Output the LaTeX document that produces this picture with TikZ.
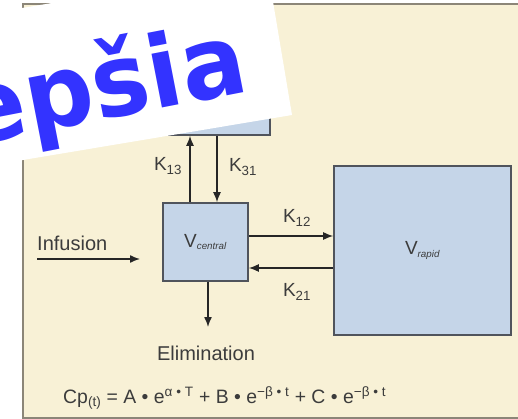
\documentclass[tikz,border=0pt]{standalone}
\usepackage{fontspec}
\setmainfont{Liberation Sans}
\newfontfamily\stampfont{DejaVu Sans}
\usetikzlibrary{arrows.meta, positioning}

\definecolor{panelbg}{RGB}{248,241,214}
\definecolor{panelline}{RGB}{140,134,120}
\definecolor{boxfill}{RGB}{197,213,232}
\definecolor{boxline}{RGB}{80,84,92}
\definecolor{inktext}{RGB}{60,60,60}
\definecolor{stampblue}{RGB}{51,51,255}

\begin{document}
\begin{tikzpicture}[x=1pt, y=-1pt, >={Latex[length=10pt,width=8pt]},
      comp/.style={draw=boxline, line width=1.6pt, fill=boxfill, inner sep=0pt,
                   font=\fontsize{19}{19}\selectfont, text=inktext},
      flow/.style={->, line width=1.4pt, draw=black!85},
      rate/.style={font=\fontsize{19}{19}\selectfont, text=inktext},
      lbl/.style={font=\fontsize{20}{20}\selectfont, text=inktext},
      stamp/.style={font=\stampfont\bfseries\fontsize{100}{100}\selectfont,
                    text=stampblue, inner sep=0pt}]

    \useasboundingbox (0,0) rectangle (518,419);

    % === panel ===
    \fill[panelbg] (23,4) rectangle (530,418);
    \draw[panelline, line width=1.5pt] (530,4) -- (23,4) -- (23,418) -- (530,418);

    % === compartments ===
    \node[comp, minimum width=120pt, minimum height=95pt] (deep) at (210,87.5) {};
    \node[comp, minimum width=85pt, minimum height=78pt] (central) at (205.5,242)
        {V{\fontsize{14}{14}\selectfont\textsubscript{\itshape central}}};
    \node[comp, minimum width=177pt, minimum height=169pt] (rapid) at (422.5,250.5)
        {V{\fontsize{14}{14}\selectfont\textsubscript{\itshape rapid}}};

    % === transfers ===
    \draw[flow] ([xshift=-15.5pt]central.north) -- ([xshift=-15.5pt]central.north |- deep.south);
    \draw[flow] ([xshift=11.5pt]central.north |- deep.south) -- ([xshift=11.5pt]central.north);
    \draw[flow] ([yshift=6pt]central.east) -- ([yshift=6pt]central.east -| rapid.west);
    \draw[flow] ([yshift=-26pt]central.east -| rapid.west) -- ([yshift=-26pt]central.east);

    \node[rate] (k13) at (168,166) {K\textsubscript{13}};
    \node[rate] (k31) at (243,167) {K\textsubscript{31}};
    \node[rate] (k12) at (297,218) {K\textsubscript{12}};
    \node[rate] (k21) at (297,292) {K\textsubscript{21}};

    % === in and out ===
    \node[lbl, anchor=west, inner sep=0pt] (infusion) at (37,243) {Infusion};
    \coordinate (infstart) at (37,259);
    \coordinate (inftip) at (140,259);
    \draw[flow] (infstart) -- (inftip);

    \node[lbl] (elim) at (206,353) {Elimination};
    \coordinate (elimtip) at (208,327);
    \draw[flow] (central.south -| elimtip) -- (elimtip);

    \node[lbl, anchor=west, inner sep=0pt, font=\fontsize{19.4}{19.4}\selectfont] (cp) at (63,398)
        {Cp\textsubscript{(t)} = A • e\textsuperscript{α • T} + B • e\textsuperscript{−β • t} + C • e\textsuperscript{−β • t}};

    % === stamp on top ===
    \fill[white] (292,115) -- (267.2,-33) -- (-127.3,33) -- (-102.5,181) -- cycle;
    \node[stamp, rotate=11, anchor=base east] (word) at (251,91) {\scalebox{0.96}[1]{epšia}};

\end{tikzpicture}
\end{document}
